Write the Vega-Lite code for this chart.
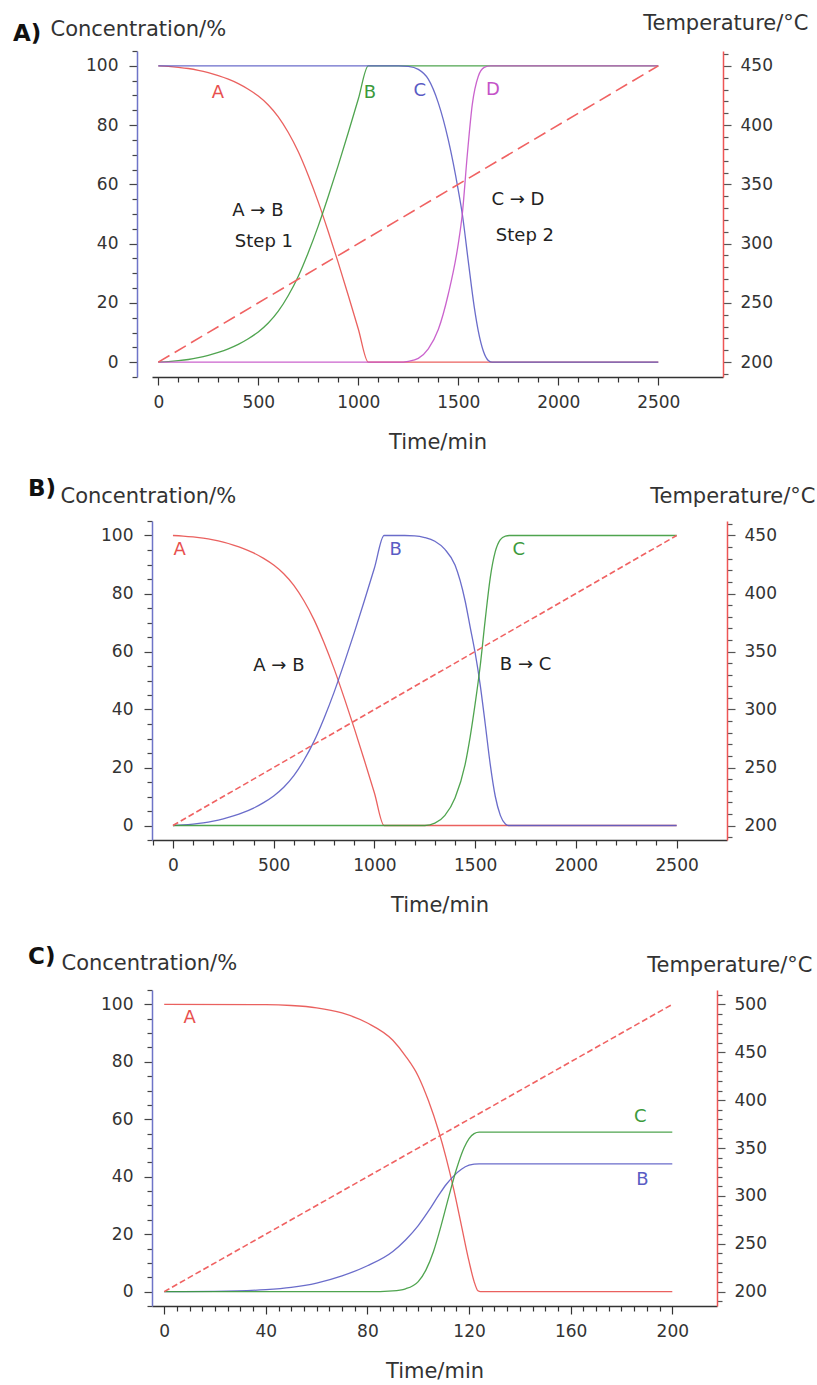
{
  "$schema": "https://vega.github.io/schema/vega-lite/v6.json",
  "autosize": {"type": "none"},
  "padding": {"left": 152, "top": 51, "right": 665, "bottom": 1334},
  "background": "white",
  "config": {
    "view": {"stroke": null},
    "font": "DejaVu Sans",
    "axis": {"grid": false, "labelFont": "DejaVu Sans", "titleFont": "DejaVu Sans", "labelFontSize": 17, "titleFontSize": 21, "titleFontWeight": "normal", "labelColor": "#333", "titleColor": "#333", "labelOverlap": false, "labelBound": false},
    "text": {"font": "DejaVu Sans"}
  },
  "bounds": "flush",
  "spacing": 144,
  "resolve": {"scale": {"x": "independent", "y": "independent", "color": "independent"}},
  "vconcat": [
    {
      "width": 571,
      "height": 326,
      "title": {"text": "A)", "anchor": "start", "frame": "group", "orient": "top", "offset": 0, "dx": -139, "dy": 57, "fontSize": 23, "fontWeight": "bold", "color": "#111", "font": "DejaVu Sans", "baseline": "bottom"},
      "layer": [
        {
          "data": {"values": [
            {"s": "A", "t": 0, "c": 100}, {"s": "A", "t": 50, "c": 99.8}, {"s": "A", "t": 100, "c": 99.5}, {"s": "A", "t": 150, "c": 99.1}, {"s": "A", "t": 200, "c": 98.5}, {"s": "A", "t": 250, "c": 97.7}, {"s": "A", "t": 300, "c": 96.7}, {"s": "A", "t": 350, "c": 95.5}, {"s": "A", "t": 400, "c": 94}, {"s": "A", "t": 450, "c": 92.1}, {"s": "A", "t": 500, "c": 89.8}, {"s": "A", "t": 550, "c": 86.8}, {"s": "A", "t": 600, "c": 82.8}, {"s": "A", "t": 650, "c": 77.5}, {"s": "A", "t": 700, "c": 71}, {"s": "A", "t": 750, "c": 63}, {"s": "A", "t": 800, "c": 54}, {"s": "A", "t": 850, "c": 44}, {"s": "A", "t": 900, "c": 33.5}, {"s": "A", "t": 950, "c": 22.5}, {"s": "A", "t": 1000, "c": 11.2}, {"s": "A", "t": 1050, "c": 0}, {"s": "A", "t": 1300, "c": 0}, {"s": "A", "t": 2500, "c": 0},
            {"s": "B", "t": 0, "c": 0}, {"s": "B", "t": 50, "c": 0.2}, {"s": "B", "t": 100, "c": 0.5}, {"s": "B", "t": 150, "c": 0.9}, {"s": "B", "t": 200, "c": 1.5}, {"s": "B", "t": 250, "c": 2.3}, {"s": "B", "t": 300, "c": 3.3}, {"s": "B", "t": 350, "c": 4.5}, {"s": "B", "t": 400, "c": 6}, {"s": "B", "t": 450, "c": 7.9}, {"s": "B", "t": 500, "c": 10.2}, {"s": "B", "t": 550, "c": 13.2}, {"s": "B", "t": 600, "c": 17.2}, {"s": "B", "t": 650, "c": 22.5}, {"s": "B", "t": 700, "c": 29}, {"s": "B", "t": 750, "c": 37}, {"s": "B", "t": 800, "c": 46}, {"s": "B", "t": 850, "c": 56}, {"s": "B", "t": 900, "c": 66.5}, {"s": "B", "t": 950, "c": 77.5}, {"s": "B", "t": 1000, "c": 88.8}, {"s": "B", "t": 1050, "c": 100}, {"s": "B", "t": 1300, "c": 100}, {"s": "B", "t": 2500, "c": 100},
            {"s": "C", "t": 0, "c": 100}, {"s": "C", "t": 1200, "c": 100}, {"s": "C", "t": 1250, "c": 99.8}, {"s": "C", "t": 1300, "c": 98.8}, {"s": "C", "t": 1350, "c": 95.5}, {"s": "C", "t": 1400, "c": 87.5}, {"s": "C", "t": 1450, "c": 75}, {"s": "C", "t": 1500, "c": 58}, {"s": "C", "t": 1520, "c": 50}, {"s": "C", "t": 1550, "c": 34}, {"s": "C", "t": 1580, "c": 18.5}, {"s": "C", "t": 1600, "c": 10.5}, {"s": "C", "t": 1625, "c": 3.8}, {"s": "C", "t": 1650, "c": 0.6}, {"s": "C", "t": 1670, "c": 0}, {"s": "C", "t": 2500, "c": 0},
            {"s": "D", "t": 0, "c": 0}, {"s": "D", "t": 1200, "c": 0}, {"s": "D", "t": 1250, "c": 0.3}, {"s": "D", "t": 1300, "c": 1.3}, {"s": "D", "t": 1350, "c": 4.5}, {"s": "D", "t": 1400, "c": 11}, {"s": "D", "t": 1450, "c": 23}, {"s": "D", "t": 1500, "c": 40}, {"s": "D", "t": 1520, "c": 50}, {"s": "D", "t": 1545, "c": 70}, {"s": "D", "t": 1570, "c": 87}, {"s": "D", "t": 1600, "c": 96.5}, {"s": "D", "t": 1630, "c": 99.5}, {"s": "D", "t": 1660, "c": 100}, {"s": "D", "t": 2500, "c": 100}
          ]},
          "mark": {"type": "line", "strokeWidth": 1.3, "interpolate": "monotone", "opacity": 0.9},
          "encoding": {
            "x": {"field": "t", "type": "quantitative", "scale": {"domain": [-31.5, 2823.5], "nice": false, "zero": false},
              "axis": {"orient": "bottom", "tickCount": 500, "values": [0,100,200,300,400,500,600,700,800,900,1000,1100,1200,1300,1400,1500,1600,1700,1800,1900,2000,2100,2200,2300,2400,2500], "format": "d", "labelExpr": "datum.value % 500 === 0 ? datum.label : ''", "labelOverlap": false, "tickSize": {"condition": {"test": "datum.value % 500 === 0", "value": 8}, "value": 5}, "labelPadding": 9, "title": "Time/min", "titlePadding": 21, "domainColor": "#333", "domainWidth": 1.5, "tickColor": "#333", "tickWidth": 1.2}},
            "y": {"field": "c", "type": "quantitative", "scale": {"domain": [-5, 105], "nice": false, "zero": false},
              "axis": {"orient": "left", "offset": 15, "tickCount": 500, "format": "d", "values": [-5,0,5,10,15,20,25,30,35,40,45,50,55,60,65,70,75,80,85,90,95,100,105], "labelExpr": "datum.value % 20 === 0 ? datum.label : ''", "labelOverlap": false, "tickSize": {"condition": {"test": "datum.value % 20 === 0", "value": 8}, "value": 5}, "labelPadding": 11, "title": "Concentration/%", "titleAngle": 0, "titleAlign": "left", "titleBaseline": "middle", "titleX": -87, "titleY": -21.6, "domainColor": "#6e74c8", "domainWidth": 1.5, "tickColor": "#444", "tickWidth": 1.2}},
            "color": {"field": "s", "type": "nominal", "scale": {"domain": ["A", "B", "C", "D", "n"], "range": ["#e8504e", "#3c9a3c", "#5a5cc4", "#c452c8", "#222222"]}, "legend": null}
          }
        },
        {
          "data": {"values": [{"t": 0, "T": 200}, {"t": 2500, "T": 450}]},
          "mark": {"type": "line", "strokeDash": [13, 6], "strokeWidth": 1.6, "color": "#f06262"},
          "encoding": {
            "x": {"field": "t", "type": "quantitative"},
            "y": {"field": "T", "type": "quantitative", "scale": {"domain": [187.5, 462.5], "nice": false, "zero": false},
              "axis": {"orient": "right", "tickCount": 500, "format": "d", "values": [190,200,210,220,230,240,250,260,270,280,290,300,310,320,330,340,350,360,370,380,390,400,410,420,430,440,450,460], "labelExpr": "datum.value % 50 === 0 ? datum.label : ''", "labelOverlap": false, "tickSize": {"condition": {"test": "datum.value % 50 === 0", "value": 8}, "value": 5}, "labelPadding": 9, "title": "Temperature/°C", "titleAngle": 0, "titleAlign": "right", "titleBaseline": "middle", "titleX": 85, "titleY": -27.6, "domainColor": "#ee5555", "domainWidth": 1.5, "tickColor": "#555", "tickWidth": 1.2}}
          }
        },
        {
          "data": {"values": [
            {"s": "A", "t": 298, "c": 90.8, "label": "A"}, {"s": "B", "t": 1058, "c": 90.8, "label": "B"}, {"s": "C", "t": 1308, "c": 91.5, "label": "C"}, {"s": "D", "t": 1673, "c": 91.8, "label": "D"},
            {"s": "n", "t": 498, "c": 51, "label": "A → B"}, {"s": "n", "t": 528, "c": 40.5, "label": "Step 1"}, {"s": "n", "t": 1798, "c": 54.7, "label": "C → D"}, {"s": "n", "t": 1833, "c": 42.6, "label": "Step 2"}
          ]},
          "mark": {"type": "text", "fontSize": 18, "align": "center", "baseline": "middle"},
          "encoding": {
            "x": {"field": "t", "type": "quantitative"},
            "y": {"field": "c", "type": "quantitative", "scale": {"domain": [-5, 105], "nice": false, "zero": false}, "axis": null},
            "text": {"field": "label"},
            "color": {"field": "s", "type": "nominal", "scale": {"domain": ["A", "B", "C", "D", "n"], "range": ["#e8504e", "#3c9a3c", "#5a5cc4", "#c452c8", "#222222"]}, "legend": null}
          }
        }
      ],
      "resolve": {"scale": {"y": "independent"}, "axis": {"y": "independent"}}
    },
    {
      "bounds": "flush",
      "spacing": 150,
      "resolve": {"scale": {"x": "independent", "y": "independent", "color": "independent"}},
      "vconcat": [
        {
          "width": 575,
          "height": 319,
          "title": {"text": "B)", "anchor": "start", "frame": "group", "orient": "top", "offset": 0, "dx": -124, "dy": 38, "fontSize": 23, "fontWeight": "bold", "color": "#111", "font": "DejaVu Sans", "baseline": "bottom"},
          "layer": [
            {
              "data": {"values": [
                {"s": "A", "t": 0, "c": 100}, {"s": "A", "t": 50, "c": 99.8}, {"s": "A", "t": 100, "c": 99.5}, {"s": "A", "t": 150, "c": 99.1}, {"s": "A", "t": 200, "c": 98.5}, {"s": "A", "t": 250, "c": 97.7}, {"s": "A", "t": 300, "c": 96.7}, {"s": "A", "t": 350, "c": 95.5}, {"s": "A", "t": 400, "c": 94}, {"s": "A", "t": 450, "c": 92.1}, {"s": "A", "t": 500, "c": 89.8}, {"s": "A", "t": 550, "c": 86.8}, {"s": "A", "t": 600, "c": 82.8}, {"s": "A", "t": 650, "c": 77.5}, {"s": "A", "t": 700, "c": 71}, {"s": "A", "t": 750, "c": 63}, {"s": "A", "t": 800, "c": 54}, {"s": "A", "t": 850, "c": 44}, {"s": "A", "t": 900, "c": 33.5}, {"s": "A", "t": 950, "c": 22.5}, {"s": "A", "t": 1000, "c": 11.2}, {"s": "A", "t": 1048, "c": 0}, {"s": "A", "t": 1300, "c": 0}, {"s": "A", "t": 2500, "c": 0},
                {"s": "B", "t": 0, "c": 0}, {"s": "B", "t": 50, "c": 0.2}, {"s": "B", "t": 100, "c": 0.5}, {"s": "B", "t": 150, "c": 0.9}, {"s": "B", "t": 200, "c": 1.5}, {"s": "B", "t": 250, "c": 2.3}, {"s": "B", "t": 300, "c": 3.3}, {"s": "B", "t": 350, "c": 4.5}, {"s": "B", "t": 400, "c": 6}, {"s": "B", "t": 450, "c": 7.9}, {"s": "B", "t": 500, "c": 10.2}, {"s": "B", "t": 550, "c": 13.2}, {"s": "B", "t": 600, "c": 17.2}, {"s": "B", "t": 650, "c": 22.5}, {"s": "B", "t": 700, "c": 29}, {"s": "B", "t": 750, "c": 37}, {"s": "B", "t": 800, "c": 46}, {"s": "B", "t": 850, "c": 56}, {"s": "B", "t": 900, "c": 66.5}, {"s": "B", "t": 950, "c": 77.5}, {"s": "B", "t": 1000, "c": 88.8}, {"s": "B", "t": 1048, "c": 100}, {"s": "B", "t": 1150, "c": 100}, {"s": "B", "t": 1200, "c": 99.9}, {"s": "B", "t": 1250, "c": 99.3}, {"s": "B", "t": 1300, "c": 98}, {"s": "B", "t": 1350, "c": 95.2}, {"s": "B", "t": 1400, "c": 89.8}, {"s": "B", "t": 1450, "c": 77.5}, {"s": "B", "t": 1475, "c": 68.5}, {"s": "B", "t": 1500, "c": 59.5}, {"s": "B", "t": 1525, "c": 48.5}, {"s": "B", "t": 1550, "c": 35}, {"s": "B", "t": 1575, "c": 21}, {"s": "B", "t": 1600, "c": 10}, {"s": "B", "t": 1625, "c": 3.5}, {"s": "B", "t": 1650, "c": 0.5}, {"s": "B", "t": 1665, "c": 0}, {"s": "B", "t": 2500, "c": 0},
                {"s": "C", "t": 0, "c": 0}, {"s": "C", "t": 1250, "c": 0}, {"s": "C", "t": 1300, "c": 0.8}, {"s": "C", "t": 1350, "c": 3.5}, {"s": "C", "t": 1400, "c": 9.5}, {"s": "C", "t": 1450, "c": 21}, {"s": "C", "t": 1475, "c": 30.5}, {"s": "C", "t": 1500, "c": 42}, {"s": "C", "t": 1525, "c": 55}, {"s": "C", "t": 1550, "c": 71}, {"s": "C", "t": 1575, "c": 85.5}, {"s": "C", "t": 1600, "c": 94.5}, {"s": "C", "t": 1625, "c": 98.6}, {"s": "C", "t": 1650, "c": 99.8}, {"s": "C", "t": 1670, "c": 100}, {"s": "C", "t": 2500, "c": 100}
              ]},
              "mark": {"type": "line", "strokeWidth": 1.3, "interpolate": "monotone", "opacity": 0.9},
              "encoding": {
                "x": {"field": "t", "type": "quantitative", "scale": {"domain": [-104, 2750], "nice": false, "zero": false},
                  "axis": {"orient": "bottom", "tickCount": 500, "values": [-100,0,100,200,300,400,500,600,700,800,900,1000,1100,1200,1300,1400,1500,1600,1700,1800,1900,2000,2100,2200,2300,2400,2500], "format": "d", "labelExpr": "datum.value % 500 === 0 ? datum.label : ''", "labelOverlap": false, "tickSize": {"condition": {"test": "datum.value % 500 === 0", "value": 8}, "value": 5}, "labelPadding": 9, "title": "Time/min", "titlePadding": 21, "domainColor": "#333", "domainWidth": 1.5, "tickColor": "#333", "tickWidth": 1.2}},
                "y": {"field": "c", "type": "quantitative", "scale": {"domain": [-5, 105], "nice": false, "zero": false},
                  "axis": {"orient": "left", "tickCount": 500, "format": "d", "values": [-5,0,5,10,15,20,25,30,35,40,45,50,55,60,65,70,75,80,85,90,95,100,105], "labelExpr": "datum.value % 20 === 0 ? datum.label : ''", "labelOverlap": false, "tickSize": {"condition": {"test": "datum.value % 20 === 0", "value": 8}, "value": 5}, "labelPadding": 11, "title": "Concentration/%", "titleAngle": 0, "titleAlign": "left", "titleBaseline": "middle", "titleX": -92, "titleY": -24.5, "domainColor": "#6e74c8", "domainWidth": 1.5, "tickColor": "#444", "tickWidth": 1.2}},
                "color": {"field": "s", "type": "nominal", "scale": {"domain": ["A", "B", "C", "n"], "range": ["#e8504e", "#5a5cc4", "#3c9a3c", "#222222"]}, "legend": null}
              }
            },
            {
              "data": {"values": [{"t": 0, "T": 200}, {"t": 2500, "T": 450}]},
              "mark": {"type": "line", "strokeDash": [6, 3], "strokeWidth": 1.6, "color": "#f06262"},
              "encoding": {
                "x": {"field": "t", "type": "quantitative"},
                "y": {"field": "T", "type": "quantitative", "scale": {"domain": [187.5, 462.5], "nice": false, "zero": false},
                  "axis": {"orient": "right", "tickCount": 500, "format": "d", "values": [190,200,210,220,230,240,250,260,270,280,290,300,310,320,330,340,350,360,370,380,390,400,410,420,430,440,450,460], "labelExpr": "datum.value % 50 === 0 ? datum.label : ''", "labelOverlap": false, "tickSize": {"condition": {"test": "datum.value % 50 === 0", "value": 8}, "value": 5}, "labelPadding": 9, "title": "Temperature/°C", "titleAngle": 0, "titleAlign": "right", "titleBaseline": "middle", "titleX": 88, "titleY": -24.5, "domainColor": "#ee5555", "domainWidth": 1.5, "tickColor": "#555", "tickWidth": 1.2}}
              }
            },
            {
              "data": {"values": [
                {"s": "A", "t": 33, "c": 95, "label": "A"}, {"s": "B", "t": 1105, "c": 95, "label": "B"}, {"s": "C", "t": 1717, "c": 95, "label": "C"},
                {"s": "n", "t": 526, "c": 54.9, "label": "A → B"}, {"s": "n", "t": 1750, "c": 55.4, "label": "B → C"}
              ]},
              "mark": {"type": "text", "fontSize": 18, "align": "center", "baseline": "middle"},
              "encoding": {
                "x": {"field": "t", "type": "quantitative"},
                "y": {"field": "c", "type": "quantitative", "scale": {"domain": [-5, 105], "nice": false, "zero": false}, "axis": null},
                "text": {"field": "label"},
                "color": {"field": "s", "type": "nominal", "scale": {"domain": ["A", "B", "C", "n"], "range": ["#e8504e", "#5a5cc4", "#3c9a3c", "#222222"]}, "legend": null}
              }
            }
          ],
          "resolve": {"scale": {"y": "independent"}, "axis": {"y": "independent"}}
        },
        {
          "width": 565,
          "height": 316,
          "title": {"text": "C)", "anchor": "start", "frame": "group", "orient": "top", "offset": 0, "dx": -124, "dy": 40, "fontSize": 23, "fontWeight": "bold", "color": "#111", "font": "DejaVu Sans", "baseline": "bottom"},
          "layer": [
            {
              "data": {"values": [
                {"s": "A", "t": 0, "c": 100}, {"s": "A", "t": 40, "c": 99.9}, {"s": "A", "t": 50, "c": 99.6}, {"s": "A", "t": 60, "c": 98.8}, {"s": "A", "t": 70, "c": 97}, {"s": "A", "t": 80, "c": 93.5}, {"s": "A", "t": 90, "c": 87.5}, {"s": "A", "t": 95, "c": 82}, {"s": "A", "t": 100, "c": 75}, {"s": "A", "t": 104, "c": 66.5}, {"s": "A", "t": 108, "c": 56}, {"s": "A", "t": 111, "c": 46.5}, {"s": "A", "t": 114, "c": 35.5}, {"s": "A", "t": 117, "c": 23}, {"s": "A", "t": 120, "c": 10.5}, {"s": "A", "t": 122, "c": 3.5}, {"s": "A", "t": 123.5, "c": 0.3}, {"s": "A", "t": 124.5, "c": 0}, {"s": "A", "t": 200, "c": 0},
                {"s": "B", "t": 0, "c": 0}, {"s": "B", "t": 20, "c": 0.1}, {"s": "B", "t": 40, "c": 0.7}, {"s": "B", "t": 50, "c": 1.5}, {"s": "B", "t": 60, "c": 3}, {"s": "B", "t": 70, "c": 5.5}, {"s": "B", "t": 80, "c": 9}, {"s": "B", "t": 90, "c": 14}, {"s": "B", "t": 95, "c": 18}, {"s": "B", "t": 100, "c": 23}, {"s": "B", "t": 104, "c": 28}, {"s": "B", "t": 108, "c": 33.5}, {"s": "B", "t": 111, "c": 37.3}, {"s": "B", "t": 114, "c": 40.3}, {"s": "B", "t": 117, "c": 42.6}, {"s": "B", "t": 120, "c": 44}, {"s": "B", "t": 122, "c": 44.4}, {"s": "B", "t": 124, "c": 44.5}, {"s": "B", "t": 200, "c": 44.5},
                {"s": "C", "t": 0, "c": 0}, {"s": "C", "t": 80, "c": 0}, {"s": "C", "t": 90, "c": 0.3}, {"s": "C", "t": 95, "c": 1}, {"s": "C", "t": 100, "c": 3.5}, {"s": "C", "t": 103, "c": 7.5}, {"s": "C", "t": 106, "c": 14}, {"s": "C", "t": 109, "c": 23}, {"s": "C", "t": 112, "c": 33}, {"s": "C", "t": 115, "c": 42.5}, {"s": "C", "t": 118, "c": 50}, {"s": "C", "t": 120, "c": 53.3}, {"s": "C", "t": 122, "c": 55}, {"s": "C", "t": 124, "c": 55.5}, {"s": "C", "t": 200, "c": 55.5}
              ]},
              "mark": {"type": "line", "strokeWidth": 1.3, "interpolate": "monotone", "opacity": 0.9},
              "encoding": {
                "x": {"field": "t", "type": "quantitative", "scale": {"domain": [-4.8, 217.6], "nice": false, "zero": false},
                  "axis": {"orient": "bottom", "tickCount": 500, "values": [0,5,10,15,20,25,30,35,40,45,50,55,60,65,70,75,80,85,90,95,100,105,110,115,120,125,130,135,140,145,150,155,160,165,170,175,180,185,190,195,200], "format": "d", "labelExpr": "datum.value % 40 === 0 ? datum.label : ''", "labelOverlap": false, "tickSize": {"condition": {"test": "datum.value % 40 === 0", "value": 8}, "value": 5}, "labelPadding": 9, "title": "Time/min", "titlePadding": 21, "domainColor": "#333", "domainWidth": 1.5, "tickColor": "#333", "tickWidth": 1.2}},
                "y": {"field": "c", "type": "quantitative", "scale": {"domain": [-5, 105], "nice": false, "zero": false},
                  "axis": {"orient": "left", "tickCount": 500, "format": "d", "values": [-5,0,5,10,15,20,25,30,35,40,45,50,55,60,65,70,75,80,85,90,95,100,105], "labelExpr": "datum.value % 20 === 0 ? datum.label : ''", "labelOverlap": false, "tickSize": {"condition": {"test": "datum.value % 20 === 0", "value": 8}, "value": 5}, "labelPadding": 11, "title": "Concentration/%", "titleAngle": 0, "titleAlign": "left", "titleBaseline": "middle", "titleX": -91, "titleY": -26.6, "domainColor": "#6e74c8", "domainWidth": 1.5, "tickColor": "#444", "tickWidth": 1.2}},
                "color": {"field": "s", "type": "nominal", "scale": {"domain": ["A", "B", "C", "n"], "range": ["#e8504e", "#5a5cc4", "#3c9a3c", "#222222"]}, "legend": null}
              }
            },
            {
              "data": {"values": [{"t": 0, "T": 200}, {"t": 200, "T": 500}]},
              "mark": {"type": "line", "strokeDash": [6, 3], "strokeWidth": 1.6, "color": "#f06262"},
              "encoding": {
                "x": {"field": "t", "type": "quantitative"},
                "y": {"field": "T", "type": "quantitative", "scale": {"domain": [185, 515], "nice": false, "zero": false},
                  "axis": {"orient": "right", "tickCount": 500, "format": "d", "values": [190,200,210,220,230,240,250,260,270,280,290,300,310,320,330,340,350,360,370,380,390,400,410,420,430,440,450,460,470,480,490,500,510], "labelExpr": "datum.value % 50 === 0 ? datum.label : ''", "labelOverlap": false, "tickSize": {"condition": {"test": "datum.value % 50 === 0", "value": 8}, "value": 5}, "labelPadding": 9, "title": "Temperature/°C", "titleAngle": 0, "titleAlign": "right", "titleBaseline": "middle", "titleX": 95, "titleY": -25, "domainColor": "#ee5555", "domainWidth": 1.5, "tickColor": "#555", "tickWidth": 1.2}}
              }
            },
            {
              "data": {"values": [
                {"s": "A", "t": 10, "c": 95.2, "label": "A"}, {"s": "C", "t": 187.4, "c": 60.8, "label": "C"}, {"s": "B", "t": 188.2, "c": 38.9, "label": "B"}
              ]},
              "mark": {"type": "text", "fontSize": 18, "align": "center", "baseline": "middle"},
              "encoding": {
                "x": {"field": "t", "type": "quantitative"},
                "y": {"field": "c", "type": "quantitative", "scale": {"domain": [-5, 105], "nice": false, "zero": false}, "axis": null},
                "text": {"field": "label"},
                "color": {"field": "s", "type": "nominal", "scale": {"domain": ["A", "B", "C", "n"], "range": ["#e8504e", "#5a5cc4", "#3c9a3c", "#222222"]}, "legend": null}
              }
            }
          ],
          "resolve": {"scale": {"y": "independent"}, "axis": {"y": "independent"}}
        }
      ]
    }
  ]
}
